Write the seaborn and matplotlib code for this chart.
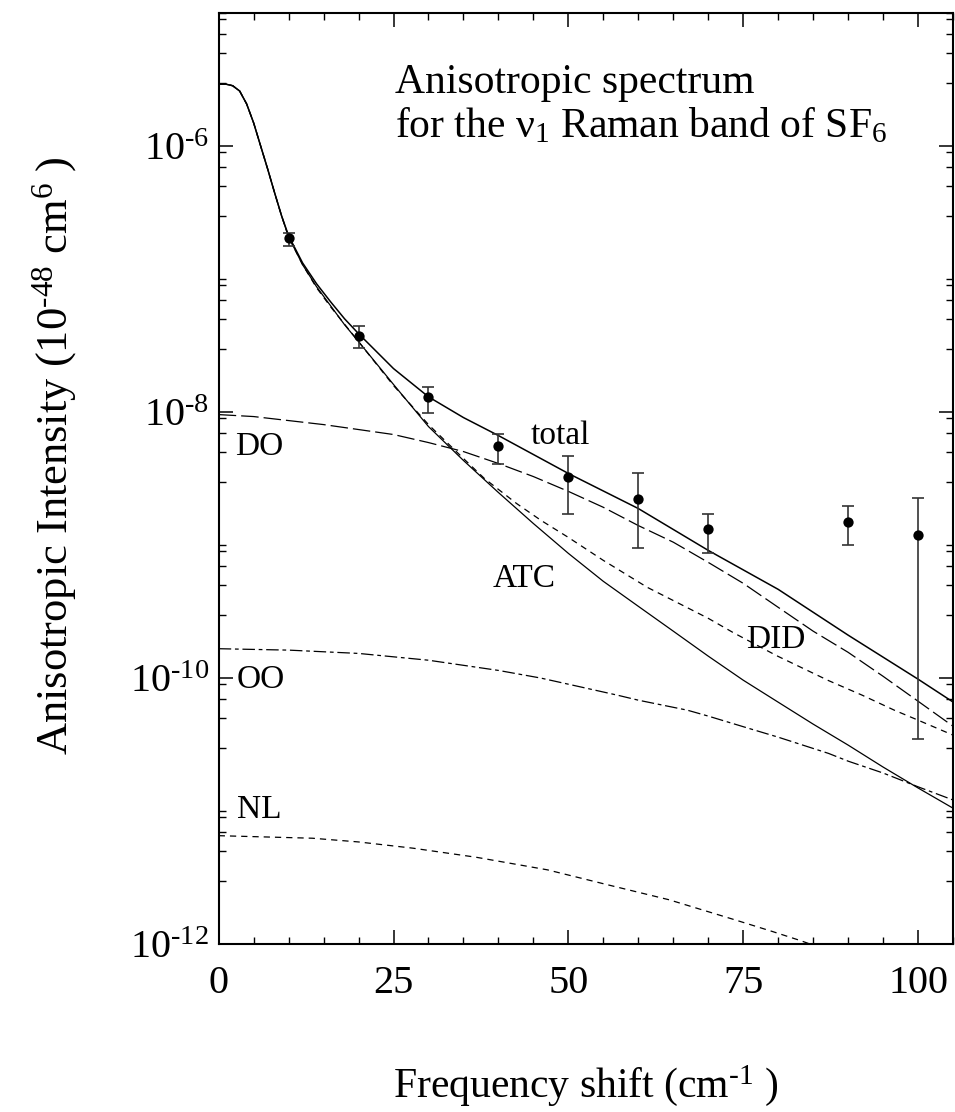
import matplotlib
matplotlib.use("Agg")
import matplotlib.pyplot as plt
import numpy as np
import pandas as pd
import seaborn as sns
from matplotlib.ticker import LogLocator, MultipleLocator, NullFormatter

# ---------------- data ----------------
total_x = [0, 1, 2, 3, 4, 5, 6, 7, 8, 9, 10, 12, 14, 16, 18, 20, 25, 30, 35, 40, 50, 60, 70, 80, 90, 100, 105]
total_y = [2.92e-6, 2.92e-6, 2.84e-6, 2.59e-6, 2.07e-6, 1.49e-6, 1.00e-6, 6.72e-7, 4.44e-7, 2.98e-7, 2.11e-7,
           1.32e-7, 9.20e-8, 6.74e-8, 5.02e-8, 3.88e-8, 2.12e-8, 1.30e-8, 9.08e-9, 6.65e-9, 3.45e-9, 1.88e-9,
           9.11e-10, 4.64e-10, 2.10e-10, 9.80e-11, 6.60e-11]

atc_x = [0, 1, 2, 3, 4, 5, 6, 7, 8, 9, 10, 12, 14, 16, 18, 20, 25, 30, 35, 40, 45, 50, 55, 60, 65, 70, 75, 80, 85,
         90, 95, 100, 105]
atc_y = [2.92e-6, 2.92e-6, 2.84e-6, 2.59e-6, 2.07e-6, 1.49e-6, 1.00e-6, 6.72e-7, 4.44e-7, 2.97e-7, 2.07e-7,
         1.28e-7, 8.74e-8, 6.29e-8, 4.53e-8, 3.38e-8, 1.61e-8, 7.77e-9, 4.32e-9, 2.48e-9, 1.45e-9, 8.65e-10,
         5.33e-10, 3.46e-10, 2.25e-10, 1.46e-10, 9.63e-11, 6.58e-11, 4.50e-11, 3.13e-11, 2.14e-11, 1.49e-11,
         1.05e-11]

did_x = [0, 1, 2, 3, 4, 5, 6, 7, 8, 9, 10, 12, 14, 16, 20, 25, 30, 35, 38, 42.6, 46.1, 50, 55, 61.3, 65.8, 70,
         73.6, 79.8, 87.2, 92, 96.6, 100, 105]
did_y = [2.92e-6, 2.92e-6, 2.84e-6, 2.59e-6, 2.07e-6, 1.49e-6, 1.00e-6, 6.72e-7, 4.44e-7, 2.97e-7, 2.07e-7,
         1.28e-7, 8.59e-8, 6.18e-8, 3.38e-8, 1.58e-8, 8.04e-9, 4.47e-9, 3.16e-9, 2.05e-9, 1.53e-9, 1.14e-9,
         7.66e-10, 4.80e-10, 3.64e-10, 2.81e-10, 2.19e-10, 1.47e-10, 9.56e-11, 7.43e-11, 5.73e-11, 4.82e-11,
         3.72e-11]

do_x = [0, 5, 10, 15, 20, 25, 30, 35, 40, 45, 50, 55, 60, 65, 70, 75, 80, 85, 90, 95, 100, 105]
do_y = [9.56e-9, 9.24e-9, 8.62e-9, 8.04e-9, 7.38e-9, 6.77e-9, 5.89e-9, 5.04e-9, 4.10e-9, 3.27e-9, 2.53e-9,
        1.92e-9, 1.40e-9, 1.05e-9, 7.40e-10, 5.15e-10, 3.40e-10, 2.25e-10, 1.56e-10, 1.03e-10, 6.69e-11, 4.34e-11]

oo_x = [0, 10, 20, 30, 40, 46, 50, 57, 60, 67, 70, 75.8, 80, 87.2, 90, 95, 100, 105]
oo_y = [1.66e-10, 1.62e-10, 1.53e-10, 1.36e-10, 1.14e-10, 1.00e-10, 8.98e-11, 7.43e-11, 6.81e-11, 5.73e-11,
        5.17e-11, 4.18e-11, 3.59e-11, 2.71e-11, 2.37e-11, 1.93e-11, 1.52e-11, 1.21e-11]

nl_x = [0, 13.4, 20, 27.8, 36.8, 47, 55.7, 64.4, 73.8, 79.2, 83.2, 88]
nl_y = [6.52e-12, 6.24e-12, 5.85e-12, 5.25e-12, 4.49e-12, 3.61e-12, 2.78e-12, 2.15e-12, 1.52e-12, 1.24e-12,
        1.06e-12, 8.59e-13]

pts_x = [10, 20, 30, 40, 50, 60, 70, 90, 100]
pts_y = [2.04e-7, 3.75e-8, 1.29e-8, 5.52e-9, 3.23e-9, 2.23e-9, 1.33e-9, 1.48e-9, 1.19e-9]
pts_lo = [1.77e-7, 3.04e-8, 9.8e-9, 4.08e-9, 1.70e-9, 9.5e-10, 8.75e-10, 9.93e-10, 3.45e-11]
pts_hi = [2.22e-7, 4.45e-8, 1.53e-8, 6.85e-9, 4.63e-9, 3.49e-9, 1.72e-9, 1.95e-9, 2.26e-9]

x_ticks = [0, 25, 50, 75, 100]
x_ticklabels = ["0", "25", "50", "75", "100"]
y_ticks = [1e-12, 1e-10, 1e-8, 1e-6]
y_ticklabels = [r"$10^{\text{-12}}$", r"$10^{\text{-10}}$", r"$10^{\text{-8}}$", r"$10^{\text{-6}}$"]

# ---------------- style ----------------
sns.set_theme(style="ticks")
plt.rcParams["font.family"] = ["Liberation Serif", "DejaVu Serif"]
plt.rcParams["mathtext.fontset"] = "custom"
plt.rcParams["mathtext.rm"] = "Liberation Serif"
plt.rcParams["mathtext.it"] = "Liberation Serif:italic"
plt.rcParams["mathtext.bf"] = "Liberation Serif:bold"
plt.rcParams["axes.edgecolor"] = "black"
plt.rcParams["xtick.color"] = "black"
plt.rcParams["ytick.color"] = "black"
plt.rcParams["text.color"] = "black"
plt.rcParams["axes.labelcolor"] = "black"

fig = plt.figure(figsize=(9.55, 11.12), dpi=100)
ax = fig.add_axes([0.229, 0.1511, 0.7689, 0.8372])
ax.set_yscale("log")

curves = [
    ("total", total_x, total_y, "-", 1.1),
    ("ATC", atc_x, atc_y, "-", 0.9),
    ("DID", did_x, did_y, (0, (5, 4)), 0.9),
    ("DO", do_x, do_y, (0, (14, 4)), 0.9),
    ("OO", oo_x, oo_y, (0, (10, 3, 3, 3)), 0.9),
    ("NL", nl_x, nl_y, (0, (5, 4)), 0.9),
]
for name, xs, ys, ls, lw in curves:
    df = pd.DataFrame({"x": xs, "y": ys})
    sns.lineplot(data=df, x="x", y="y", ax=ax, color="black", linewidth=lw, linestyle=ls,
                 estimator=None, sort=True, legend=False)

yv = np.array(pts_y)
yerr = [yv - np.array(pts_lo), np.array(pts_hi) - yv]
ax.errorbar(pts_x, pts_y, yerr=yerr, fmt="none", ecolor="#333333", elinewidth=1.2, capsize=4, capthick=1.2)
sns.scatterplot(x=pts_x, y=pts_y, ax=ax, color="black", s=55, edgecolor="black", linewidth=0, zorder=5)

ax.set_xlim(0, 105)
ax.set_ylim(1e-12, 1e-5)

ax.set_xticks(x_ticks)
ax.set_xticklabels(x_ticklabels)
ax.xaxis.set_minor_locator(MultipleLocator(5))
ax.set_yticks(y_ticks)
ax.set_yticklabels(y_ticklabels)
ax.yaxis.set_minor_locator(LogLocator(base=10.0, subs=[1, 3, 5, 7, 9], numticks=40))
ax.yaxis.set_minor_formatter(NullFormatter())

ax.tick_params(axis="both", which="major", direction="in", length=10, width=1.1,
               top=True, right=True, labelsize=29)
ax.tick_params(axis="x", which="major", pad=15)
ax.tick_params(axis="y", which="major", pad=7)
ax.tick_params(axis="both", which="minor", direction="in", length=5, width=1.0, top=True, right=True)
for s in ax.spines.values():
    s.set_linewidth(1.5)
    s.set_color("black")

ax.set_xlabel(r"Frequency shift (cm$^{\text{-1}}$ )", fontsize=30)
ax.set_ylabel(r"Anisotropic Intensity (10$^{\text{-48}}$ cm$^{6}$ )", fontsize=32)
ax.xaxis.set_label_coords(0.5, -0.128)
ax.yaxis.set_label_coords(-0.19, 0.525)

ax.text(0.240, 0.914, "Anisotropic spectrum", transform=ax.transAxes, fontsize=30, va="baseline")
ax.text(0.240, 0.866, r"for the ν$_{1}$ Raman band of SF$_{6}$", transform=ax.transAxes, fontsize=30,
        va="baseline")

lab_font = 24
ax.text(44.6, 10 ** -8.237, "total", fontsize=lab_font, va="baseline")
ax.text(39.2, 10 ** -9.316, "ATC", fontsize=lab_font, va="baseline")
ax.text(75.4, 10 ** -9.776, "DID", fontsize=lab_font, va="baseline")
ax.text(2.4, 10 ** -8.327, "DO", fontsize=lab_font, va="baseline")
ax.text(2.6, 10 ** -10.077, "OO", fontsize=lab_font, va="baseline")
ax.text(2.6, 10 ** -11.053, "NL", fontsize=lab_font, va="baseline")

fig.savefig("out.png", dpi=100, facecolor="white")
